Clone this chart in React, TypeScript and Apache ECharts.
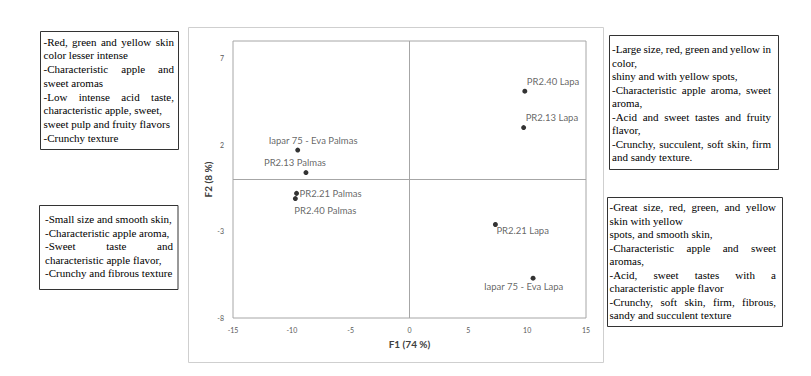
import React, { useEffect, useRef } from "react";
import * as echarts from "echarts";

// ---- data ----
const pointNames = [
  "PR2.40 Lapa",
  "PR2.13 Lapa",
  "Iapar 75 - Eva Palmas",
  "PR2.13 Palmas",
  "PR2.21 Palmas",
  "PR2.40 Palmas",
  "PR2.21 Lapa",
  "Iapar 75 - Eva Lapa",
];
const f1Values = [9.8, 9.7, -9.5, -8.8, -9.6, -9.7, 7.3, 10.5];
const f2Values = [5.1, 3.0, 1.7, 0.4, -0.8, -1.1, -2.6, -5.7];

const xAxisTitle = "F1 (74 %)";
const yAxisTitle = "F2 (8 %)";

// ---- annotation texts ----
const boxTopLeft = [
  "-Red, green and yellow skin",
  "color lesser intense",
  "-Characteristic apple and",
  "sweet aromas",
  "-Low intense acid taste,",
  "characteristic apple, sweet,",
  "sweet pulp and fruity flavors",
  "-Crunchy texture",
];
const boxTopLeftJustified = [0, 2, 4];

const boxBottomLeft = [
  "-Small size and smooth skin,",
  "-Characteristic apple aroma,",
  "-Sweet taste and",
  "characteristic apple flavor,",
  "-Crunchy and fibrous texture",
];
const boxBottomLeftJustified = [2];

const boxTopRight = [
  "-Large size, red, green and yellow in",
  "color,",
  "shiny and with yellow spots,",
  "-Characteristic apple aroma, sweet",
  "aroma,",
  "-Acid and sweet tastes and fruity",
  "flavor,",
  "-Crunchy, succulent, soft skin, firm",
  "and sandy texture.",
];
const boxTopRightJustified = [0, 3, 5, 7];

const boxBottomRight = [
  "-Great size, red, green, and yellow",
  "skin with yellow",
  "spots, and smooth skin,",
  "-Characteristic apple and sweet",
  "aromas,",
  "-Acid, sweet tastes with a",
  "characteristic apple flavor",
  "-Crunchy, soft skin, firm, fibrous,",
  "sandy and succulent texture",
];
const boxBottomRightJustified = [0, 3, 5, 7];

// ---- label placement (offset of label's left/middle from point centre) ----
const labelOffsets: [number, number][] = [
  [2, -10],
  [2, -10],
  [-29, -10],
  [-42, -10],
  [3, 0],
  [-1, 12],
  [1, 6],
  [-49, 8],
];

const SERIF = '"Liberation Serif", "Times New Roman", serif';
const SANS = 'Lato, "Open Sans", sans-serif';
const BOX_FONT = 11;

let measureCtx: CanvasRenderingContext2D | null = null;
function measure(t: string): number {
  if (!measureCtx) {
    measureCtx = document.createElement("canvas").getContext("2d");
  }
  measureCtx!.font = `${BOX_FONT}px "Liberation Serif"`;
  return measureCtx!.measureText(t).width;
}

function textBox(
  lines: string[],
  justified: number[],
  bx: number,
  by: number,
  bw: number,
  bh: number,
  tl: number,
  tr: number,
  firstY: number,
  lineH: number
) {
  const els: any[] = [
    {
      type: "rect",
      shape: { x: bx + 0.5, y: by + 0.5, width: bw, height: bh },
      style: { fill: "#fff", stroke: "#333", lineWidth: 1 },
      silent: true,
    },
  ];
  lines.forEach((line, i) => {
    const y = firstY + i * lineH;
    if (justified.includes(i)) {
      const words = line.split(" ");
      const widths = words.map(measure);
      const total = widths.reduce((a, b) => a + b, 0);
      const gap = (tr - tl - total) / (words.length - 1);
      let x = tl;
      words.forEach((w, j) => {
        els.push({
          type: "text",
          x,
          y,
          silent: true,
          style: {
            text: w,
            fontFamily: SERIF,
            fontSize: BOX_FONT,
            fill: "#000",
            align: "left",
            verticalAlign: "middle",
          },
        });
        x += widths[j] + gap;
      });
    } else {
      els.push({
        type: "text",
        x: tl,
        y,
        silent: true,
        style: {
          text: line,
          fontFamily: SERIF,
          fontSize: BOX_FONT,
          fill: "#000",
          align: "left",
          verticalAlign: "middle",
        },
      });
    }
  });
  return els;
}

export default function App() {
  const ref = useRef<HTMLDivElement>(null);

  useEffect(() => {
    if (!ref.current) return;
    const chart = echarts.init(ref.current, null, { renderer: "svg" });

    const data = pointNames.map((name, i) => ({
      name,
      value: [f1Values[i], f2Values[i]],
      label: {
        position: [labelOffsets[i][0] + 2.5, labelOffsets[i][1] + 2.5],
        align: "left",
        verticalAlign: "middle",
      },
    }));

    const graphics: any[] = [
      {
        type: "rect",
        shape: { x: 188.5, y: 27.5, width: 415, height: 335 },
        style: { fill: "none", stroke: "#cfcfcf", lineWidth: 1 },
        silent: true,
        z: -10,
      },
      ...textBox(boxTopLeft, boxTopLeftJustified, 40, 31, 138, 118, 43.5, 174, 41.7, 13.7),
      ...textBox(boxBottomLeft, boxBottomLeftJustified, 39, 205, 138.5, 84, 45, 173, 219, 13.5),
      ...textBox(boxTopRight, boxTopRightJustified, 609, 35, 169, 134, 612, 771, 49, 13.5),
      ...textBox(boxBottomRight, boxBottomRightJustified, 607, 197, 175, 129, 609.5, 776, 207, 13.5),
    ];

    chart.setOption({
      animation: false,
      backgroundColor: "#fff",
      grid: {
        left: 233,
        top: 41,
        width: 353,
        height: 277,
        show: true,
        borderColor: "#a6a6a6",
        borderWidth: 1,
        backgroundColor: "transparent",
      },
      xAxis: {
        type: "value",
        min: -15,
        max: 15,
        interval: 5,
        name: xAxisTitle,
        nameLocation: "middle",
        nameGap: 26,
        nameTextStyle: {
          fontFamily: SANS,
          fontWeight: "bold",
          fontSize: 10,
          color: "#404040",
          verticalAlign: "middle",
        },
        axisLine: { show: false },
        axisTick: { show: false },
        splitLine: { show: false },
        axisLabel: {
          fontFamily: SANS,
          fontSize: 7,
          color: "#595959",
          margin: 8,
        },
      },
      yAxis: {
        type: "value",
        min: -8,
        max: 8,
        interval: 5,
        name: yAxisTitle,
        nameLocation: "middle",
        nameGap: 24,
        nameTextStyle: {
          fontFamily: SANS,
          fontWeight: "bold",
          fontSize: 10,
          color: "#404040",
          verticalAlign: "middle",
        },
        axisLine: { show: false },
        axisTick: { show: false },
        splitLine: { show: false },
        axisLabel: {
          fontFamily: SANS,
          fontSize: 7,
          color: "#595959",
          margin: 9,
          showMaxLabel: false,
        },
      },
      series: [
        {
          type: "scatter",
          symbol: "circle",
          symbolSize: 5,
          itemStyle: { color: "#000" },
          label: {
            show: true,
            formatter: "{b}",
            fontFamily: SANS,
            fontSize: 9.5,
            color: "#404040",
          },
          data,
          markLine: {
            silent: true,
            symbol: "none",
            label: { show: false },
            lineStyle: { color: "#a6a6a6", type: "solid", width: 1 },
            data: [{ xAxis: 0 }, { yAxis: 0 }],
          },
          z: 5,
        },
      ],
      graphic: graphics,
    });

    return () => chart.dispose();
  }, []);

  return (
    <div
      ref={ref}
      style={{ position: "fixed", left: 0, top: 0, width: 811, height: 376, background: "#fff" }}
    />
  );
}
